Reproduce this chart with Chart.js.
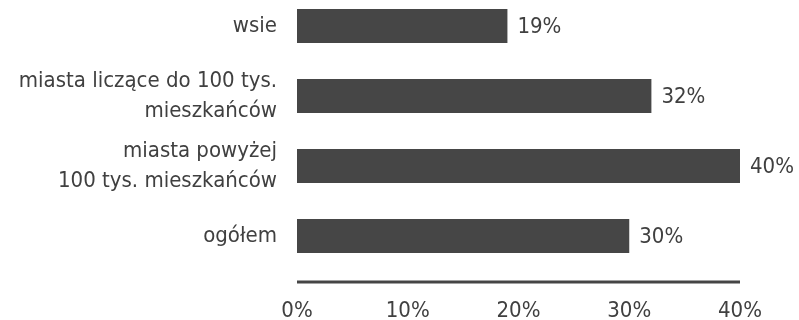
<!DOCTYPE html>
<html>
<head>
<meta charset="utf-8">
<script src="https://cdn.jsdelivr.net/npm/chart.js@4"></script>
<style>
    body { margin: 0; background: #fff; }
    #ramka { width: 799px; height: 320px; overflow: hidden; position: relative; }
    #wykres { position: absolute; left: 0; top: -9px; width: 799px; height: 329px; }
</style>
</head>
<body>
<div id="ramka">
    <div id="wykres"><canvas id="graficaUdzialy"></canvas></div>
</div>
<script>
const kategorie = [
    "wsie",
    ["miasta liczące do 100 tys.", "mieszkańców"],
    ["miasta powyżej", "100 tys. mieszkańców"],
    "ogółem"
];
const wartosci = [19, 32, 40, 30];
const osX = [0, 10, 20, 30, 40];

const czcionka = "'Liberation Sans Narrow', 'DejaVu Sans Condensed', 'Roboto', sans-serif";
const kolorTekstu = "#404040";
const kolorSlupka = "#464646";

// etykiety z wartościami przy końcach słupków
const etykietyWartosci = {
    id: "etykietyWartosci",
    afterDatasetsDraw(chart) {
        const ctx = chart.ctx;
        const meta = chart.getDatasetMeta(0);
        ctx.save();
        ctx.font = "22px " + czcionka;
        ctx.fillStyle = kolorTekstu;
        ctx.textAlign = "left";
        ctx.textBaseline = "middle";
        meta.data.forEach((bar, i) => {
            ctx.fillText(wartosci[i] + "%", bar.x + 10, bar.y + 1);
        });
        ctx.restore();
    }
};

// linia osi odsunięta pod słupkami
const liniaOsi = {
    id: "liniaOsi",
    afterDraw(chart) {
        const ctx = chart.ctx;
        const x = chart.scales.x;
        const y = chart.chartArea.bottom + 11;
        ctx.save();
        ctx.strokeStyle = "#454545";
        ctx.lineWidth = 3;
        ctx.beginPath();
        ctx.moveTo(x.getPixelForValue(osX[0]), y);
        ctx.lineTo(x.getPixelForValue(osX[osX.length - 1]), y);
        ctx.stroke();
        ctx.restore();
    }
};

const ctx = document.getElementById("graficaUdzialy").getContext("2d");

new Chart(ctx, {
    type: "bar",
    data: {
        labels: kategorie,
        datasets: [{
            data: wartosci,
            backgroundColor: kolorSlupka,
            borderWidth: 0,
            categoryPercentage: 1,
            barPercentage: 0.486
        }]
    },
    options: {
        indexAxis: "y",
        responsive: true,
        maintainAspectRatio: false,
        animation: false,
        layout: { padding: { left: 0, right: 59, top: 0, bottom: 0 } },
        plugins: {
            legend: { display: false },
            tooltip: { enabled: false }
        },
        scales: {
            x: {
                min: osX[0],
                max: osX[osX.length - 1],
                afterBuildTicks: scale => {
                    scale.ticks = osX.map(v => ({ value: v }));
                },
                afterFit: scale => { scale.height = 49; },
                grid: { display: false },
                border: { display: false },
                ticks: {
                    color: kolorTekstu,
                    font: { family: czcionka, size: 22 },
                    padding: 19,
                    callback: v => v + "%"
                }
            },
            y: {
                afterFit: scale => {
                    scale.width = 297;
                    scale.paddingTop = 0;
                    scale.paddingBottom = 0;
                },
                grid: { display: false },
                border: { display: false },
                ticks: {
                    color: kolorTekstu,
                    font: { family: czcionka, size: 22, lineHeight: 1.36 },
                    padding: 12
                }
            }
        }
    },
    plugins: [etykietyWartosci, liniaOsi]
});
</script>
</body>
</html>
